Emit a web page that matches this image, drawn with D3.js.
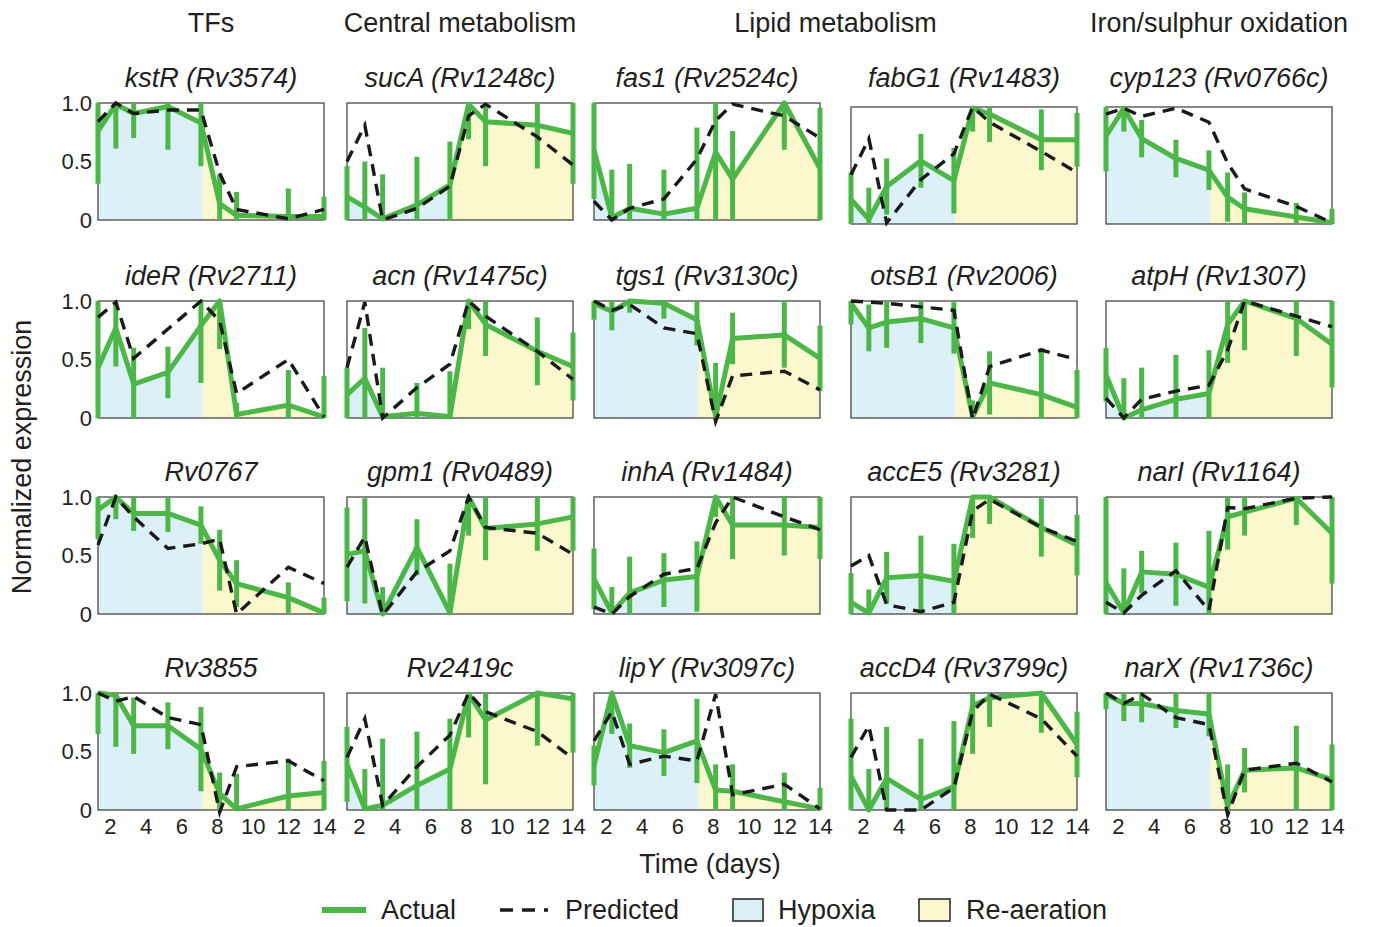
<!DOCTYPE html>
<meta charset="utf-8">
<head>
  <title>Actual vs predicted expression</title>
</head>
<style>
body { margin: 0; background: #fff; }
text { font-family: "Liberation Sans", Arial, sans-serif; fill: #231f20; }
.frame { fill: none; stroke: #3a3a3a; stroke-width: 1.2px; }
.actual { fill: none; stroke: #4cb748; stroke-width: 5px; stroke-linejoin: round; }
.err { stroke: #4cb748; stroke-width: 5px; }
.pred { fill: none; stroke: #1a1a1a; stroke-width: 3.4px; stroke-dasharray: 12,8; }
.hyp { fill: #dcf0f8; }
.rea { fill: #fbf8cd; }
</style>
<body>
  <svg width="1373" height="927"></svg>
  <script src="https://cdnjs.cloudflare.com/ajax/libs/d3/7.8.5/d3.min.js"></script>
  <script>
// sampling days, same for every gene
var days = [1.33, 2.33, 3.33, 5.25, 7.1, 8.15, 9.1, 12, 14];
var reaerationDay = 7.2;
var dayTicks = [2, 4, 6, 8, 10, 12, 14];
var exprTicks = [0, 0.5, 1];

var groups = ["TFs", "Central metabolism", "Lipid metabolism", "Iron/sulphur oxidation"];
var groupCols = [[0], [1], [2, 3], [4]];

var genes = [
  "kstR (Rv3574)", "sucA (Rv1248c)", "fas1 (Rv2524c)", "fabG1 (Rv1483)", "cyp123 (Rv0766c)",
  "ideR (Rv2711)", "acn (Rv1475c)", "tgs1 (Rv3130c)", "otsB1 (Rv2006)", "atpH (Rv1307)",
  "Rv0767", "gpm1 (Rv0489)", "inhA (Rv1484)", "accE5 (Rv3281)", "narI (Rv1164)",
  "Rv3855", "Rv2419c", "lipY (Rv3097c)", "accD4 (Rv3799c)", "narX (Rv1736c)"
];

var actual = [
  [.76, .99, .91, .97, .83, .14, .04, .03, .03],
  [.20, .11, .01, .13, .30, .99, .84, .81, .74],
  [.60, .02, .10, .05, .10, .58, .35, 1.0, .44],
  [.21, .04, .32, .54, .37, .99, .94, .72, .72],
  [.75, .99, .73, .56, .46, .23, .13, .06, .01],
  [.43, .77, .29, .39, .79, 1.0, .03, .11, .01],
  [.20, .34, .01, .04, .01, 1.0, .80, .57, .44],
  [.98, .91, 1.0, .98, .84, .01, .68, .71, .51],
  [.98, .77, .82, .85, .77, .01, .30, .20, .09],
  [.37, 0, .07, .16, .21, .80, 1.0, .85, .63],
  [.89, 1.0, .86, .86, .76, .46, .26, .14, .01],
  [.51, .54, 0, .57, .01, 1.0, .73, .77, .83],
  [.30, .01, .18, .29, .32, 1.0, .76, .76, .74],
  [.10, .01, .31, .33, .28, 1.0, 1.0, .74, .59],
  [.27, .01, .36, .34, .23, .83, .87, .99, .69],
  [1.0, .98, .72, .72, .52, .14, .01, .12, .15],
  [.39, .01, .04, .21, .35, .99, .77, 1.0, .95],
  [.38, 1.0, .55, .49, .59, .17, .16, .07, .01],
  [.29, 0, .27, .09, .20, .89, .96, 1.0, .56],
  [.99, .91, .91, .85, .82, .03, .34, .36, .26]
];

var errors = [
  [.45, .38, .21, .37, .37, .25, .20, .24, .17],
  [.26, .39, .38, .41, .37, .30, .38, .37, .43],
  [.42, .41, .38, .38, .69, .60, .41, .40, .52],
  [.23, .27, .24, .23, .28, .20, .24, .26, .23],
  [.30, .20, .16, .16, .17, .21, .14, .12, .12],
  [.60, .33, .31, .22, .49, .41, .10, .30, .35],
  [.23, .43, .42, .26, .39, .24, .27, .29, .29],
  [.14, .16, .10, .13, .22, .46, .22, .28, .28],
  [.18, .20, .22, .21, .22, .14, .27, .40, .32],
  [.23, .34, .36, .38, .37, .33, .42, .32, .37],
  [.25, .19, .15, .16, .16, .26, .20, .13, .13],
  [.40, .45, .23, .24, .42, .33, .27, .23, .29],
  [.26, .22, .31, .23, .30, .17, .29, .26, .27],
  [.25, .20, .22, .34, .32, .35, .23, .25, .26],
  [.75, .38, .18, .27, .48, .28, .20, .23, .43],
  [.35, .44, .24, .20, .36, .18, .30, .32, .27],
  [.32, .34, .57, .46, .43, .37, .55, .45, .46],
  [.17, .35, .19, .20, .36, .22, .23, .25, .18],
  [.49, .35, .44, .52, .56, .41, .25, .34, .28],
  [.13, .15, .16, .15, .19, .36, .19, .36, .30]
];

var predicted = [
  [.84, 1.0, .91, .94, .94, .40, .09, .01, .09],
  [.50, .81, 0, .10, .29, .89, .99, .71, .47],
  [.16, 0, .10, .18, .52, .85, .99, .89, .70],
  [.42, .73, .01, .38, .60, 1.0, .87, .62, .44],
  [.94, .99, .92, .99, .87, .52, .30, .15, .01],
  [.86, .99, .51, .76, 1.0, .83, .21, .50, .01],
  [.43, .99, 0, .26, .46, 1.0, .87, .57, .33],
  [1.0, .92, .97, .77, .72, -.03, .36, .40, .24],
  [1.0, .99, .98, .95, .92, -.01, .44, .58, .50],
  [.17, 0, .16, .23, .28, .58, 1.0, .87, .78],
  [.59, 1.0, .83, .56, .60, .64, 0, .40, .26],
  [.40, .66, -.01, .36, .54, 1.0, .74, .69, .51],
  [.06, 0, .15, .34, .39, .78, 1.0, .83, .72],
  [.41, .50, .08, .02, .10, .88, .98, .74, .62],
  [.10, .01, .16, .37, .03, .91, .90, .99, 1.0],
  [1.0, .93, .97, .79, .73, -.02, .37, .42, .25],
  [.45, .78, .04, .37, .64, 1.0, .84, .67, .44],
  [.59, .84, .39, .46, .42, .99, .13, .22, .01],
  [.45, .72, 0, 0, .19, .84, .99, .78, .46],
  [1.0, .91, .99, .79, .73, -.04, .34, .40, .24]
];

var colLeft = [98, 347, 594, 851, 1106];
var rowTop = [103, 301, 497, 693];
var pw = 226, ph = 117;

var svg = d3.select("svg");
var defs = svg.append("defs");

genes.forEach(function(name, i) {
  var r = Math.floor(i / 5), c = i % 5;
  var top = rowTop[r] + (r === 0 && c >= 3 ? 4 : 0);
  var x = d3.scaleLinear().domain([days[0], 14]).range([colLeft[c], colLeft[c] + pw]);
  var y = d3.scaleLinear().domain([0, 1]).range([top + ph, top]);
  var pts = days.map(function(d, j) {
    return { t: d, a: actual[i][j], e: errors[i][j], p: predicted[i][j] };
  });
  var g = svg.append("g");

  // shaded area under the measured curve, split at re-aeration
  defs.append("clipPath").attr("id", "hyp" + i).append("rect")
    .attr("x", x(days[0])).attr("y", top).attr("width", x(reaerationDay) - x(days[0])).attr("height", ph);
  defs.append("clipPath").attr("id", "rea" + i).append("rect")
    .attr("x", x(reaerationDay)).attr("y", top).attr("width", x(14) - x(reaerationDay)).attr("height", ph);
  var area = d3.area()
    .x(function(d) { return x(d.t); })
    .y0(y(0))
    .y1(function(d) { return y(Math.max(0, Math.min(1, d.a))); });
  g.append("path").attr("class", "hyp").attr("d", area(pts)).attr("clip-path", "url(#hyp" + i + ")");
  g.append("path").attr("class", "rea").attr("d", area(pts)).attr("clip-path", "url(#rea" + i + ")");

  g.append("rect").attr("class", "frame")
    .attr("x", colLeft[c]).attr("y", top).attr("width", pw).attr("height", ph);

  g.selectAll("line.err").data(pts).enter().append("line")
    .attr("class", "err")
    .attr("x1", function(d) { return x(d.t); })
    .attr("x2", function(d) { return x(d.t); })
    .attr("y1", function(d) { return y(Math.max(0, d.a - d.e)); })
    .attr("y2", function(d) { return y(Math.min(1, d.a + d.e)); });

  g.append("path").attr("class", "actual")
    .attr("d", d3.line().x(function(d) { return x(d.t); }).y(function(d) { return y(d.a); })(pts));
  g.append("path").attr("class", "pred")
    .attr("d", d3.line().x(function(d) { return x(d.t); }).y(function(d) { return y(d.p); })(pts));

  g.append("text")
    .attr("x", colLeft[c] + pw / 2).attr("y", rowTop[r] - 16)
    .attr("text-anchor", "middle").attr("font-size", 27).attr("font-style", "italic")
    .text(name);

  if (c === 0) {
    var ya = g.append("g").attr("transform", "translate(" + colLeft[c] + ",0)")
      .call(d3.axisLeft(y).tickValues(exprTicks).tickSize(0).tickPadding(6)
        .tickFormat(function(d) { return d === 0 ? "0" : d.toFixed(1); }));
    ya.select(".domain").remove();
    ya.selectAll("text").attr("font-size", 22).attr("font-family", null);
  }
  if (r === 3) {
    var xa = g.append("g").attr("transform", "translate(0," + (top + ph) + ")")
      .call(d3.axisBottom(x).tickValues(dayTicks).tickSize(0).tickPadding(8));
    xa.select(".domain").remove();
    xa.selectAll("text").attr("font-size", 22).attr("font-family", null);
  }
});

// column group headers
groups.forEach(function(name, k) {
  var cols = groupCols[k];
  var cx = (colLeft[cols[0]] + colLeft[cols[cols.length - 1]] + pw) / 2;
  svg.append("text").attr("x", cx).attr("y", 32)
    .attr("text-anchor", "middle").attr("font-size", 27).text(name);
});

svg.append("text")
  .attr("transform", "translate(31,457) rotate(-90)")
  .attr("text-anchor", "middle").attr("font-size", 27)
  .text("Normalized expression");

svg.append("text").attr("x", 710).attr("y", 873)
  .attr("text-anchor", "middle").attr("font-size", 27)
  .text("Time (days)");

// legend
var lg = svg.append("g").attr("transform", "translate(0,910)");
lg.append("line").attr("class", "err").attr("x1", 322).attr("x2", 366).attr("y1", 0).attr("y2", 0)
  .style("stroke-width", "6px");
lg.append("text").attr("x", 381).attr("y", 9).attr("font-size", 27).text("Actual");
lg.append("line").attr("class", "pred").attr("x1", 500).attr("x2", 548).attr("y1", 0).attr("y2", 0)
  .style("stroke-dasharray", "13,9");
lg.append("text").attr("x", 565).attr("y", 9).attr("font-size", 27).text("Predicted");
lg.append("rect").attr("class", "hyp").attr("x", 733).attr("y", -11).attr("width", 30).attr("height", 22)
  .style("stroke", "#222").style("stroke-width", "1.5px");
lg.append("text").attr("x", 778).attr("y", 9).attr("font-size", 27).text("Hypoxia");
lg.append("rect").attr("class", "rea").attr("x", 919).attr("y", -11).attr("width", 31).attr("height", 22)
  .style("stroke", "#222").style("stroke-width", "1.5px");
lg.append("text").attr("x", 966).attr("y", 9).attr("font-size", 27).text("Re-aeration");
  </script>
</body>
</html>
